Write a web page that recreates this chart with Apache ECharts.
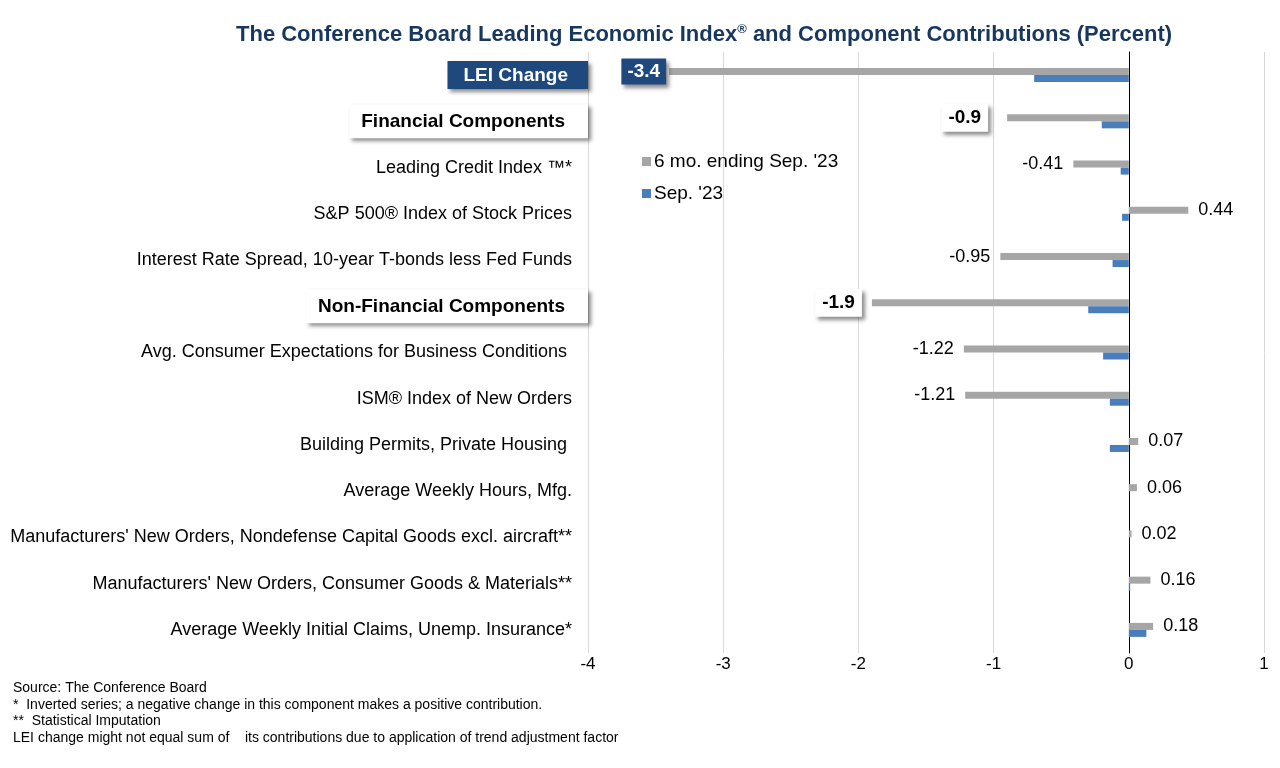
<!DOCTYPE html>
<html>
<head>
<meta charset="utf-8">
<script src="https://cdn.jsdelivr.net/npm/echarts@6/dist/echarts.min.js"></script>
<style>html,body{margin:0;padding:0;background:#fff}#c{width:1280px;height:768px}</style>
</head>
<body>
<div id="c"></div>
<script>
const categories = [
  'LEI Change',
  'Financial Components',
  'Leading Credit Index \u2122*',
  'S&P 500\u00ae Index of Stock Prices',
  'Interest Rate Spread, 10-year T-bonds less Fed Funds',
  'Non-Financial Components',
  'Avg. Consumer Expectations for Business Conditions ',
  'ISM\u00ae Index of New Orders',
  'Building Permits, Private Housing ',
  'Average Weekly Hours, Mfg.',
  "Manufacturers' New Orders, Nondefense Capital Goods excl. aircraft**",
  "Manufacturers' New Orders, Consumer Goods & Materials**",
  'Average Weekly Initial Claims, Unemp. Insurance*'
];
const sixMonth = [-3.4, -0.9, -0.41, 0.44, -0.95, -1.9, -1.22, -1.21, 0.07, 0.06, 0.02, 0.16, 0.18];
const september = [-0.7, -0.2, -0.06, -0.05, -0.12, -0.3, -0.19, -0.14, -0.14, 0.0, 0.0, 0.01, 0.13];
const seriesNames = ["6 mo. ending Sep. '23", "Sep. '23"];
const xTicks = [-4, -3, -2, -1, 0, 1];
const footnotes = [
  'Source: The Conference Board',
  '*  Inverted series; a negative change in this component makes a positive contribution.',
  '**  Statistical Imputation',
  'LEI change might not equal sum of    its contributions due to application of trend adjustment factor'
];
const headerRows = [1, 5];

const FONT = '"Liberation Sans", Arial, sans-serif';
const NAVY = '#1f497d';
const GRAY = '#a6a6a6';
const BLUE = '#4a7ebb';
const SHADOW = { shadowColor: 'rgba(0,0,0,0.45)', shadowBlur: 4, shadowOffsetX: 3, shadowOffsetY: 3 };

const chart = echarts.init(document.getElementById('c'));

const grayData = sixMonth.map((v, i) => {
  let label = {
    show: true, position: 'outside', distance: 10,
    formatter: String(v), fontSize: 18, color: '#000', fontFamily: FONT
  };
  if (i === 0) {
    label = Object.assign(label, {
      distance: 3, fontWeight: 'bold', fontSize: 19, color: '#fff',
      backgroundColor: NAVY, padding: [4, 6, 3, 6]
    }, SHADOW);
  } else if (headerRows.includes(i)) {
    label = Object.assign(label, {
      distance: i === 1 ? 19 : 10, fontWeight: 'bold', fontSize: 19, color: '#000',
      backgroundColor: '#fff', padding: [5, 7, 4, 7]
    }, SHADOW);
  }
  return { value: v, label: label };
});

chart.setOption({
  animation: false,
  title: {
    text: '{t|The Conference Board Leading Economic Index}{s|\u00ae}{t| and Component Contributions (Percent)}',
    left: 231, top: 18,
    textStyle: {
      rich: {
        t: { fontSize: 22, fontWeight: 'bold', color: '#17375e', fontFamily: FONT },
        s: { fontSize: 13, fontWeight: 'bold', color: '#17375e', fontFamily: FONT, padding: [0, 0, 10, 0] }
      }
    }
  },
  legend: {
    orient: 'vertical', left: 637, top: 147, itemWidth: 9, itemHeight: 9, itemGap: 13,
    icon: 'rect', data: seriesNames,
    textStyle: { fontSize: 19, color: '#000', fontFamily: FONT, padding: [0, 0, 0, -2] }
  },
  grid: { left: 588, right: 16, top: 52, bottom: 115, containLabel: false },
  xAxis: {
    type: 'value', min: xTicks[0], max: xTicks[xTicks.length - 1], interval: 1,
    axisLine: { show: false }, axisTick: { show: false },
    axisLabel: { fontSize: 17, color: '#000', fontFamily: FONT, margin: 3 },
    splitLine: { show: true, lineStyle: { color: '#d9d9d9', width: 1 } }
  },
  yAxis: {
    type: 'category', inverse: true, data: categories,
    axisLine: { show: true, onZero: true, lineStyle: { color: '#000', width: 1 } },
    axisTick: { show: false },
    axisLabel: {
      margin: 0, interval: 0,
      formatter: function (val, idx) {
        if (idx === 0) return '{lei|' + val + '}';
        if (headerRows.includes(idx)) return '{hdr|' + val + '}';
        return '{n|' + val + '}';
      },
      rich: {
        n: { fontSize: 18, color: '#000', fontFamily: FONT, padding: [0, 16, 0, 0] },
        lei: Object.assign({
          fontSize: 19, fontWeight: 'bold', color: '#fff', fontFamily: FONT,
          backgroundColor: NAVY, padding: [5, 20, 4, 16]
        }, SHADOW),
        hdr: Object.assign({
          fontSize: 19, fontWeight: 'bold', color: '#000', fontFamily: FONT,
          backgroundColor: '#fff', padding: [8, 23, 7, 12]
        }, SHADOW)
      }
    }
  },
  series: [
    {
      name: seriesNames[0], type: 'bar', data: grayData, barWidth: 7, barGap: '0%',
      itemStyle: { color: GRAY }
    },
    {
      name: seriesNames[1], type: 'bar', data: september, barWidth: 7, barGap: '0%',
      itemStyle: { color: BLUE }
    }
  ],
  graphic: footnotes.map((t, i) => ({
    type: 'text', left: 13, top: 681 + i * 16.7,
    style: { text: t, font: '14px ' + FONT, fill: '#000' }
  }))
});
</script>
</body>
</html>
